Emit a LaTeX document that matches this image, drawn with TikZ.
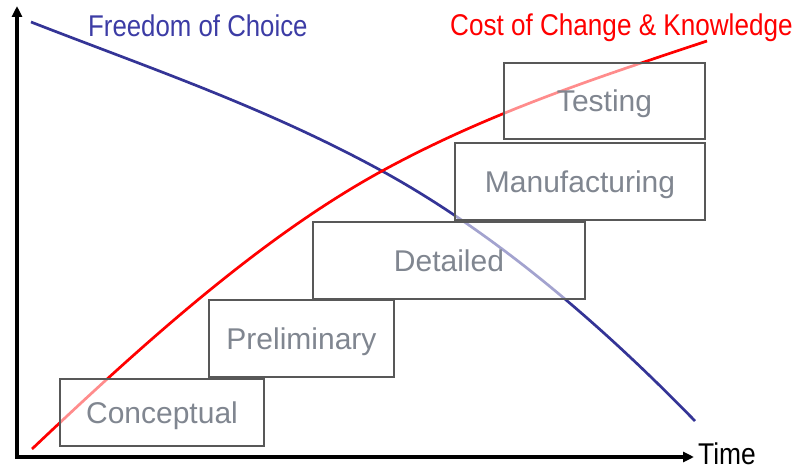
\documentclass[tikz,border=0pt]{standalone}
\usepackage{fontspec}
\setmainfont{Liberation Sans}
\usetikzlibrary{arrows.meta}
\definecolor{fblue}{RGB}{52,52,150}
\definecolor{ftext}{RGB}{60,60,165}
\definecolor{boxtext}{RGB}{128,134,144}
\definecolor{boxline}{RGB}{88,88,88}
\tikzset{
  stagebox/.style={draw=boxline, line width=1.8pt, fill=white, fill opacity=0.55, text opacity=1,
    text=boxtext, font=\fontsize{30}{36}\selectfont, text height=21.5pt, text depth=0pt,
    inner sep=0pt, rectangle},
  axisline/.style={line width=3.4pt, black, -{Triangle[length=11pt,width=10pt]}},
  curveline/.style={line width=2.7pt},
  title/.style={font=\fontsize{30}{36}\selectfont, inner sep=0pt, anchor=base west}
}
\begin{document}
\begin{tikzpicture}[x=1pt,y=-1pt]
\useasboundingbox (0,0) rectangle (795,470);
% axes
\coordinate (o) at (17,457);
\coordinate (ytop) at (17,6);
\coordinate (xend) at (694,457);
\draw[axisline] ([yshift=-1.7pt]o) -- (ytop);
\draw[axisline] ([xshift=-1.7pt]o) -- (xend);
% curves
\coordinate (bstart) at (31,22);
\coordinate (cross) at (382,171);
\coordinate (bend) at (695,421);
\coordinate (rstart) at (32,449);
\coordinate (rend) at (707,41);
\draw[curveline, fblue] (bstart) .. controls (148,67.6) and (265,107) .. (cross)
  .. controls (486,228) and (591,314) .. (bend);
\draw[curveline, red] (rstart) .. controls (149,338) and (265,235) .. (cross)
  .. controls (490,112) and (599,77) .. (rend);
% boxes
\node[stagebox, minimum width=201pt, minimum height=76pt] (testing) at (604.5,101) {Testing};
\node[stagebox, minimum width=250pt, minimum height=77pt] (manuf) at (580,181.5) {Manufacturing};
\node[stagebox, minimum width=272pt, minimum height=77pt] (detailed) at (449,260.5) {Detailed};
\node[stagebox, minimum width=185pt, minimum height=77pt] (prelim) at (301.5,338.5) {Preliminary};
\node[stagebox, minimum width=204pt, minimum height=67pt] (concept) at (162,412.5) {Conceptual};
% titles
\node[title, text=ftext] (foc) at (88,37) {\scalebox{0.86}[1]{Freedom of Choice}};
\node[title, text=red] (cck) at (450,36) {\scalebox{0.87}[1]{Cost of Change \& Knowledge}};
\node[title, text=black] (time) at (698,464) {\scalebox{0.88}[1]{Time}};
\end{tikzpicture}
\end{document}
